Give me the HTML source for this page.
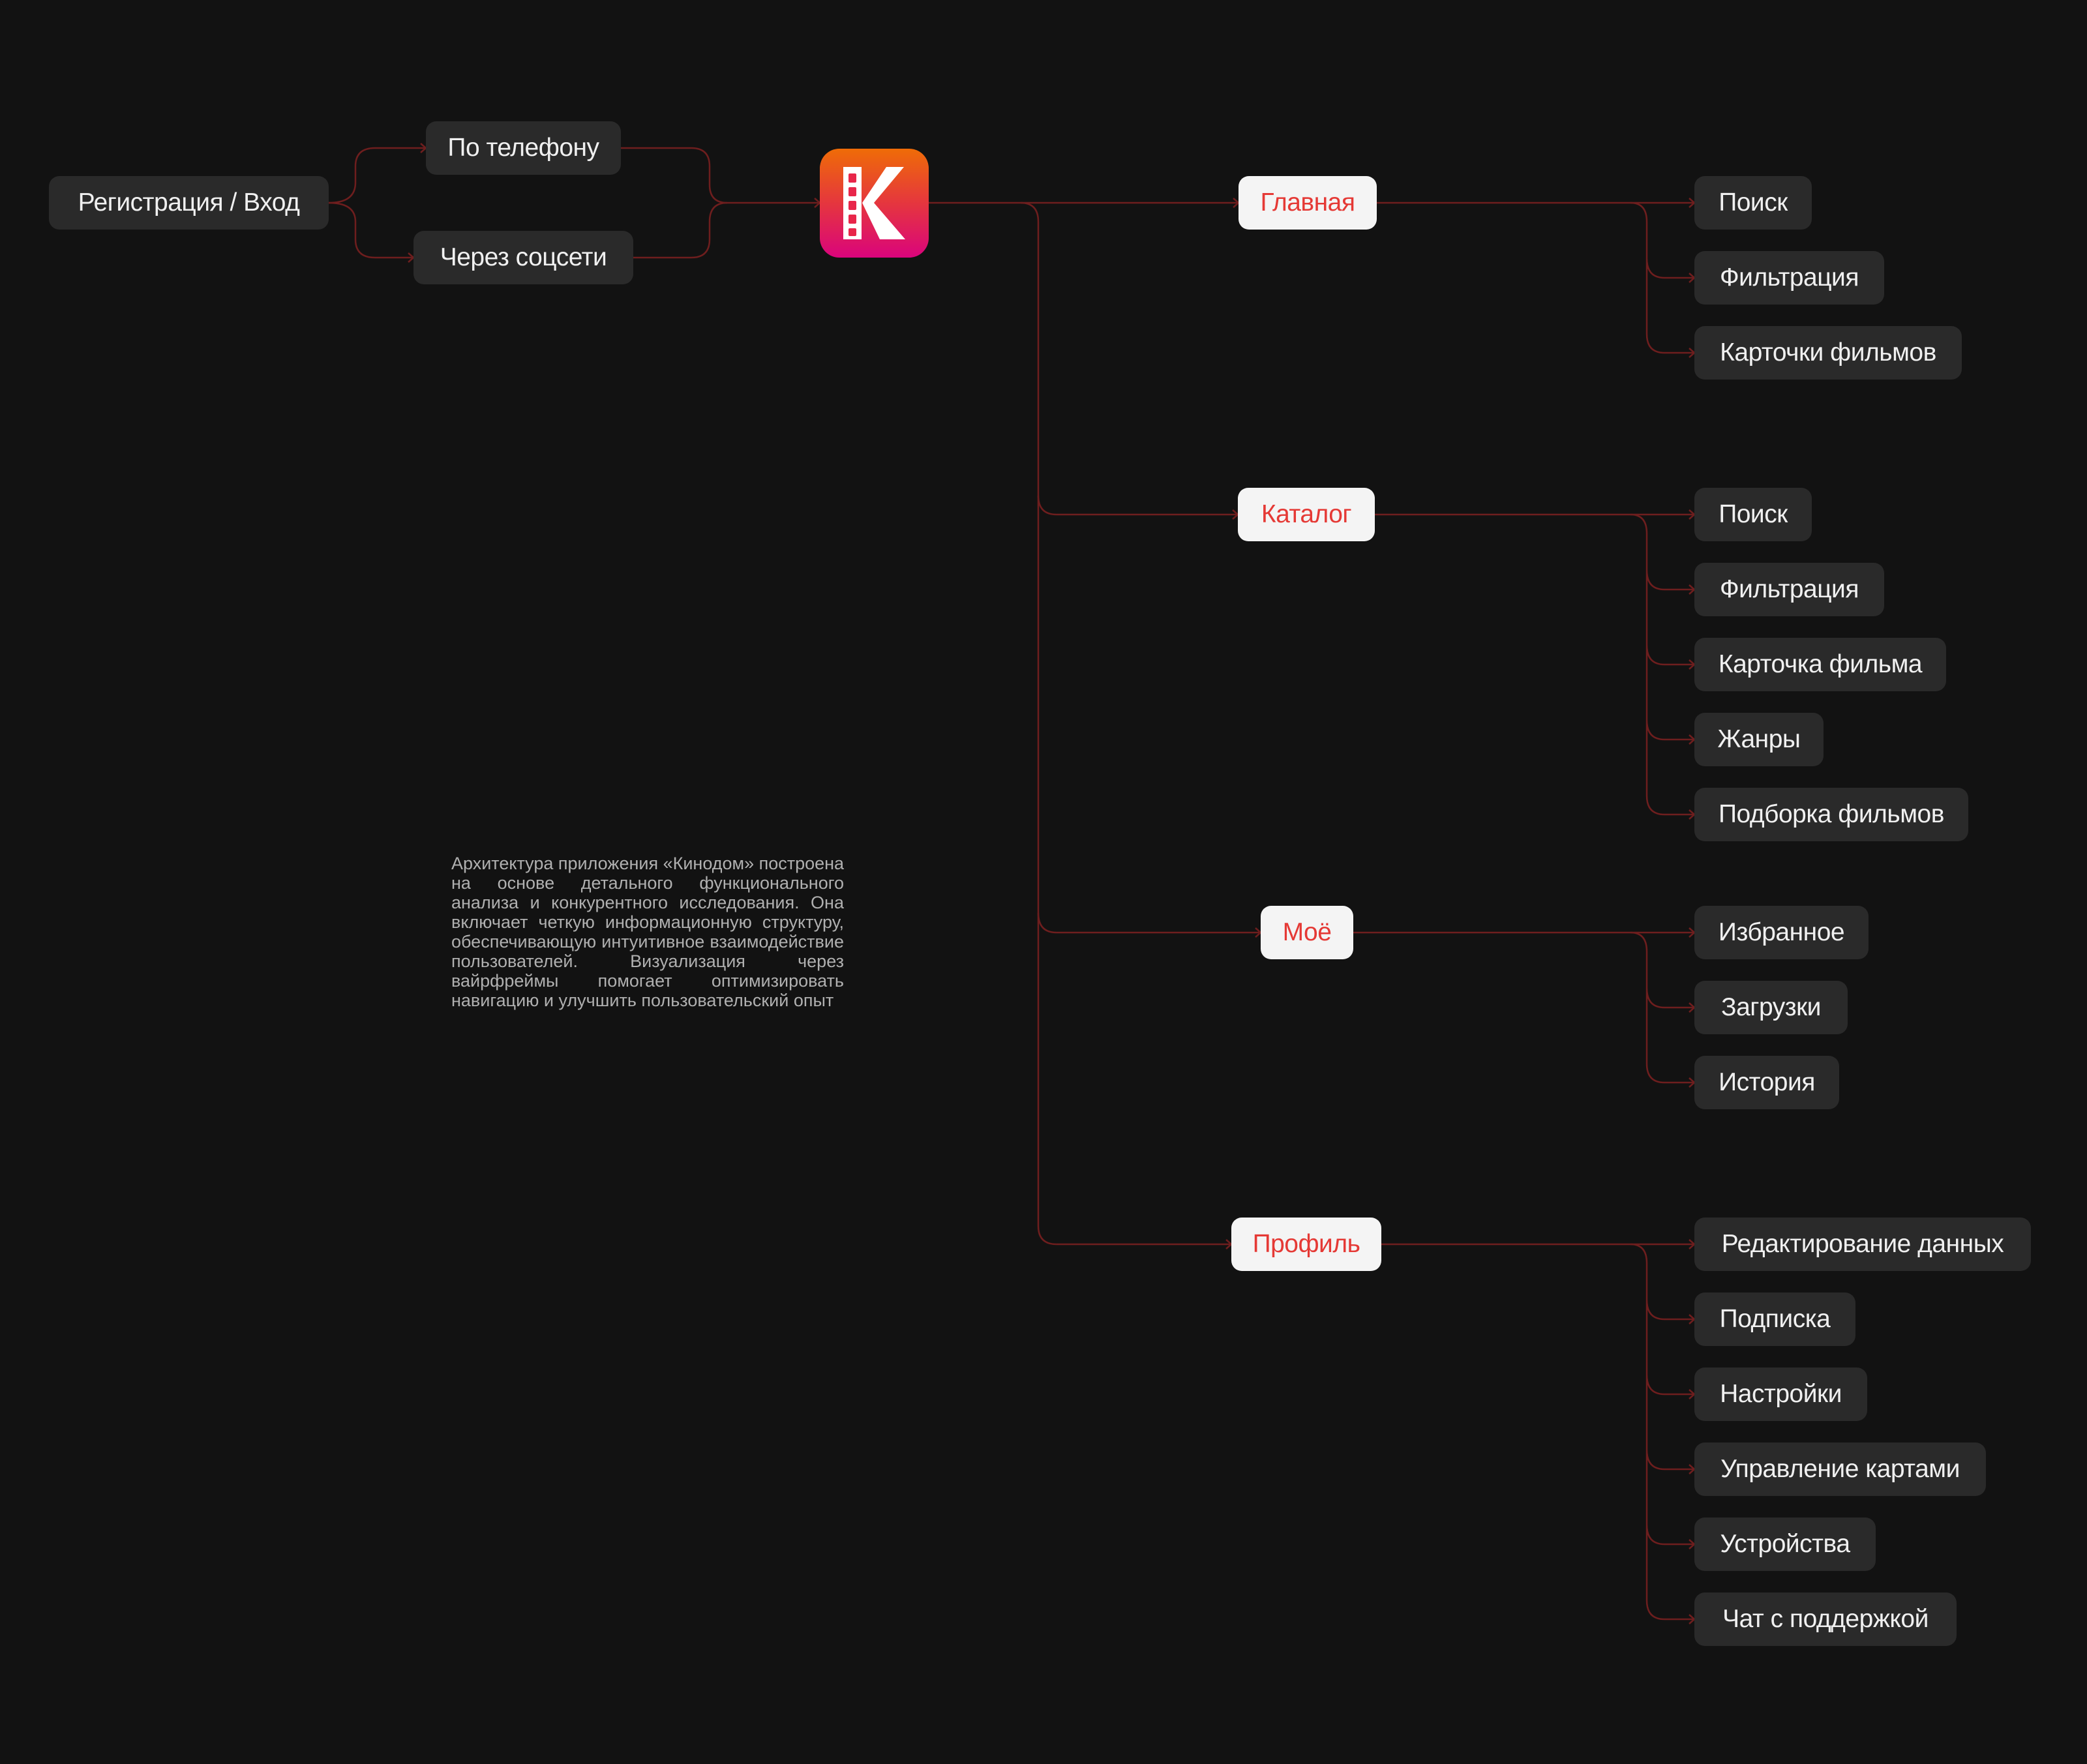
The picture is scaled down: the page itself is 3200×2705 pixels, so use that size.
<!DOCTYPE html>
<html><head><meta charset="utf-8"><style>
html,body{margin:0;padding:0;background:#121212;}
body{width:3200px;height:2705px;position:relative;overflow:hidden;font-family:"Liberation Sans","Noto Sans CJK SC",sans-serif;}
.b{position:absolute;height:82px;line-height:82px;border-radius:16px;background:#2a2a2a;color:#f0f0f0;font-size:39px;text-align:center;white-space:nowrap;letter-spacing:-0.5px}
.w{background:#f4f4f4;color:#e53935}
svg{position:absolute;left:0;top:0}
.t{position:absolute;left:692px;top:1309px;width:602px;font-size:27px;line-height:30px;color:#b0b0b0;letter-spacing:0}
.t span{display:block;text-align:justify;text-align-last:justify;white-space:nowrap}
.t span.l{text-align-last:left}
</style></head><body>
<svg width="3200" height="2705" fill="none" stroke="#6e1e1e" stroke-width="2.5">
<path d="M504,311 Q545,311 545,280 V255 Q545,227 575,227 H653"/>
<path d="M504,311 Q545,311 545,340 V367 Q545,395 575,395 H634"/>
<path d="M952,227 H1060 Q1088,227 1088,255 V283 Q1088,311 1115,311 H1257"/>
<path d="M971,395 H1060 Q1088,395 1088,367 V340 Q1088,311 1115,311"/>
<path d="M645,220 L653,227 L645,234 M626,388 L634,395 L626,402 M1249,304 L1257,311 L1249,318"/>
<path d="M1424,311 H1899"/>
<path d="M1565,311 Q1592,311 1592,340 V1880 Q1592,1908 1620,1908 H1888"/>
<path d="M1592,760 Q1592,789 1620,789 H1898"/>
<path d="M1592,1400 Q1592,1430 1620,1430 H1933"/>
<path d="M1891,304 L1899,311 L1891,318 M1890,782 L1898,789 L1890,796 M1925,1423 L1933,1430 L1925,1437 M1880,1901 L1888,1908 L1880,1915"/>
<path d="M2111,311 H2598 M2108,789 H2598 M2075,1430 H2598 M2118,1908 H2598"/>
<path d="M2500,311 Q2525,311 2525,340 V512 Q2525,541 2552,541 H2598 M2525,396 Q2525,426 2552,426 H2598"/>
<path d="M2500,789 Q2525,789 2525,818 V1220 Q2525,1249 2552,1249 H2598 M2525,874 Q2525,904 2552,904 H2598 M2525,989 Q2525,1019 2552,1019 H2598 M2525,1104 Q2525,1134 2552,1134 H2598"/>
<path d="M2500,1430 Q2525,1430 2525,1459 V1631 Q2525,1660 2552,1660 H2598 M2525,1515 Q2525,1545 2552,1545 H2598"/>
<path d="M2500,1908 Q2525,1908 2525,1937 V2454 Q2525,2483 2552,2483 H2598 M2525,1993 Q2525,2023 2552,2023 H2598 M2525,2108 Q2525,2138 2552,2138 H2598 M2525,2223 Q2525,2253 2552,2253 H2598 M2525,2338 Q2525,2368 2552,2368 H2598"/>
<path d="M2590,304 L2598,311 L2590,318 M2590,419 L2598,426 L2590,433 M2590,534 L2598,541 L2590,548
M2590,782 L2598,789 L2590,796 M2590,897 L2598,904 L2590,911 M2590,1012 L2598,1019 L2590,1026 M2590,1127 L2598,1134 L2590,1141 M2590,1242 L2598,1249 L2590,1256
M2590,1423 L2598,1430 L2590,1437 M2590,1538 L2598,1545 L2590,1552 M2590,1653 L2598,1660 L2590,1667
M2590,1901 L2598,1908 L2590,1915 M2590,2016 L2598,2023 L2590,2030 M2590,2131 L2598,2138 L2590,2145 M2590,2246 L2598,2253 L2590,2260 M2590,2361 L2598,2368 L2590,2375 M2590,2476 L2598,2483 L2590,2490"/>
<defs><linearGradient id="g" x1="0" y1="0" x2="0" y2="1"><stop offset="0" stop-color="#ef6c07"/><stop offset="0.5" stop-color="#e5363e"/><stop offset="1" stop-color="#da047c"/></linearGradient></defs>
<rect x="1257" y="228" width="167" height="167" rx="30" fill="url(#g)" stroke="none"/>
<rect x="1293" y="256" width="28" height="111" fill="#fff" stroke="none"/>
<g fill="#e8264a" stroke="none"><rect x="1301" y="266" width="12" height="14" rx="2"/><rect x="1301" y="287" width="12" height="14" rx="2"/><rect x="1301" y="308" width="12" height="14" rx="2"/><rect x="1301" y="329" width="12" height="14" rx="2"/><rect x="1301" y="350" width="12" height="12" rx="2"/></g>
<polygon points="1359,256 1386,256 1340,311 1388,367 1349,367 1322,311" fill="#fff" stroke="none"/>
</svg>
<div class="b" style="left:75px;top:270px;width:429px">Регистрация / Вход</div>
<div class="b" style="left:653px;top:186px;width:299px">По телефону</div>
<div class="b" style="left:634px;top:354px;width:337px">Через соцсети</div>

<div class="b w" style="left:1899px;top:270px;width:212px">Главная</div>
<div class="b w" style="left:1898px;top:748px;width:210px">Каталог</div>
<div class="b w" style="left:1933px;top:1389px;width:142px">Моё</div>
<div class="b w" style="left:1888px;top:1867px;width:230px">Профиль</div>

<div class="b" style="left:2598px;top:270px;width:180px">Поиск</div>
<div class="b" style="left:2598px;top:385px;width:291px">Фильтрация</div>
<div class="b" style="left:2598px;top:500px;width:410px">Карточки фильмов</div>

<div class="b" style="left:2598px;top:748px;width:180px">Поиск</div>
<div class="b" style="left:2598px;top:863px;width:291px">Фильтрация</div>
<div class="b" style="left:2598px;top:978px;width:386px">Карточка фильма</div>
<div class="b" style="left:2598px;top:1093px;width:198px">Жанры</div>
<div class="b" style="left:2598px;top:1208px;width:420px">Подборка фильмов</div>

<div class="b" style="left:2598px;top:1389px;width:267px">Избранное</div>
<div class="b" style="left:2598px;top:1504px;width:235px">Загрузки</div>
<div class="b" style="left:2598px;top:1619px;width:222px">История</div>

<div class="b" style="left:2598px;top:1867px;width:516px">Редактирование данных</div>
<div class="b" style="left:2598px;top:1982px;width:247px">Подписка</div>
<div class="b" style="left:2598px;top:2097px;width:265px">Настройки</div>
<div class="b" style="left:2598px;top:2212px;width:447px">Управление картами</div>
<div class="b" style="left:2598px;top:2327px;width:278px">Устройства</div>
<div class="b" style="left:2598px;top:2442px;width:402px">Чат с поддержкой</div>

<div class="t">
<span>Архитектура приложения «Кинодом» построена</span>
<span>на основе детального функционального</span>
<span>анализа и конкурентного исследования. Она</span>
<span>включает четкую информационную структуру,</span>
<span>обеспечивающую интуитивное взаимодействие</span>
<span>пользователей. Визуализация через</span>
<span>вайрфреймы помогает оптимизировать</span>
<span class="l">навигацию и улучшить пользовательский опыт</span>
</div>
</body></html>
